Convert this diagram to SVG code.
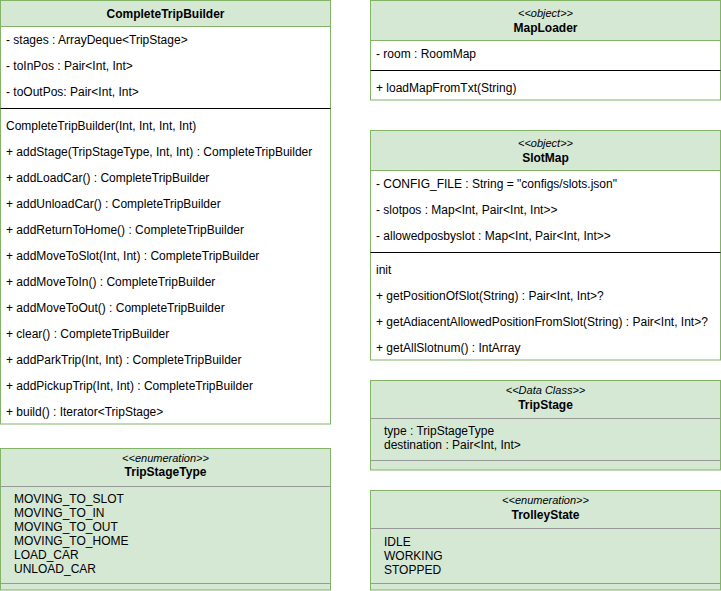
<svg xmlns="http://www.w3.org/2000/svg" width="721" height="591" viewBox="0 0 721 591">
<style>
text { font-family: "Liberation Sans", Arial, Helvetica, sans-serif; font-size: 12px; fill: #000; }
.name { font-weight: bold; text-anchor: middle; }
.stereo { font-style: italic; font-size: 11px; text-anchor: middle; }
.box { fill: #ffffff; stroke: #82b366; stroke-width: 1; }
.head { fill: #d5e8d4; stroke: #82b366; stroke-width: 1; }
.green { fill: #d5e8d4; stroke: #82b366; stroke-width: 1; }
.sep { stroke: #000000; stroke-width: 1; }
.gsep { stroke: #999999; stroke-width: 1; }
</style>
<rect width="721" height="591" fill="#ffffff"/>

<g id="CompleteTripBuilder">
  <rect class="box" x="0.5" y="0.5" width="330" height="423.5"/>
  <rect class="head" x="0.5" y="0.5" width="330" height="26"/>
  <text class="name" x="165.5" y="18">CompleteTripBuilder</text>
  <text x="6" y="44">- stages : ArrayDeque&lt;TripStage&gt;</text>
  <text x="6" y="70">- toInPos : Pair&lt;Int, Int&gt;</text>
  <text x="6" y="96">- toOutPos: Pair&lt;Int, Int&gt;</text>
  <line class="sep" x1="0.5" y1="108.5" x2="330.5" y2="108.5"/>
  <text x="6" y="130">CompleteTripBuilder(Int, Int, Int, Int)</text>
  <text x="6" y="156">+ addStage(TripStageType, Int, Int) : CompleteTripBuilder</text>
  <text x="6" y="182">+ addLoadCar() : CompleteTripBuilder</text>
  <text x="6" y="208">+ addUnloadCar() : CompleteTripBuilder</text>
  <text x="6" y="234">+ addReturnToHome() : CompleteTripBuilder</text>
  <text x="6" y="260">+ addMoveToSlot(Int, Int) : CompleteTripBuilder</text>
  <text x="6" y="286">+ addMoveToIn() : CompleteTripBuilder</text>
  <text x="6" y="312">+ addMoveToOut() : CompleteTripBuilder</text>
  <text x="6" y="338">+ clear() : CompleteTripBuilder</text>
  <text x="6" y="364">+ addParkTrip(Int, Int) : CompleteTripBuilder</text>
  <text x="6" y="390">+ addPickupTrip(Int, Int) : CompleteTripBuilder</text>
  <text x="6" y="416">+ build() : Iterator&lt;TripStage&gt;</text>
</g>

<g id="TripStageType">
  <rect class="green" x="0.5" y="448.5" width="330" height="141.5"/>
  <text class="stereo" x="165.5" y="462">&lt;&lt;enumeration&gt;&gt;</text>
  <text class="name" x="165.5" y="476">TripStageType</text>
  <line class="gsep" x1="0.5" y1="486.5" x2="330.5" y2="486.5"/>
  <text x="14" y="503">MOVING_TO_SLOT</text>
  <text x="14" y="517">MOVING_TO_IN</text>
  <text x="14" y="531">MOVING_TO_OUT</text>
  <text x="14" y="545">MOVING_TO_HOME</text>
  <text x="14" y="559">LOAD_CAR</text>
  <text x="14" y="573">UNLOAD_CAR</text>
  <line class="gsep" x1="0.5" y1="583.5" x2="330.5" y2="583.5"/>
</g>

<g id="MapLoader">
  <rect class="box" x="370.5" y="0.5" width="350" height="99.5"/>
  <rect class="head" x="370.5" y="0.5" width="350" height="40"/>
  <text class="stereo" x="545.5" y="17">&lt;&lt;object&gt;&gt;</text>
  <text class="name" x="545.5" y="32">MapLoader</text>
  <text x="376" y="58">- room : RoomMap</text>
  <line class="sep" x1="370.5" y1="70.5" x2="720.5" y2="70.5"/>
  <text x="376" y="92">+ loadMapFromTxt(String)</text>
</g>

<g id="SlotMap">
  <rect class="box" x="370.5" y="130.5" width="350" height="229.5"/>
  <rect class="head" x="370.5" y="130.5" width="350" height="40"/>
  <text class="stereo" x="545.5" y="147">&lt;&lt;object&gt;&gt;</text>
  <text class="name" x="545.5" y="162">SlotMap</text>
  <text x="376" y="188">- CONFIG_FILE : String = "configs/slots.json"</text>
  <text x="376" y="214">- slotpos : Map&lt;Int, Pair&lt;Int, Int&gt;&gt;</text>
  <text x="376" y="240">- allowedposbyslot : Map&lt;Int, Pair&lt;Int, Int&gt;&gt;</text>
  <line class="sep" x1="370.5" y1="252.5" x2="720.5" y2="252.5"/>
  <text x="376" y="274">init</text>
  <text x="376" y="300">+ getPositionOfSlot(String) : Pair&lt;Int, Int&gt;?</text>
  <text x="376" y="326">+ getAdiacentAllowedPositionFromSlot(String) : Pair&lt;Int, Int&gt;?</text>
  <text x="376" y="352">+ getAllSlotnum() : IntArray</text>
</g>

<g id="TripStage">
  <rect class="green" x="370.5" y="380.5" width="350" height="89.5"/>
  <text class="stereo" x="545.5" y="394">&lt;&lt;Data Class&gt;&gt;</text>
  <text class="name" x="545.5" y="409">TripStage</text>
  <line class="gsep" x1="370.5" y1="418.5" x2="720.5" y2="418.5"/>
  <text x="384" y="435">type : TripStageType</text>
  <text x="384" y="449">destination : Pair&lt;Int, Int&gt;</text>
  <line class="gsep" x1="370.5" y1="460.5" x2="720.5" y2="460.5"/>
</g>

<g id="TrolleyState">
  <rect class="green" x="370.5" y="490.5" width="350" height="99.5"/>
  <text class="stereo" x="545.5" y="504">&lt;&lt;enumeration&gt;&gt;</text>
  <text class="name" x="545.5" y="519">TrolleyState</text>
  <line class="gsep" x1="370.5" y1="528.5" x2="720.5" y2="528.5"/>
  <text x="384" y="546">IDLE</text>
  <text x="384" y="560">WORKING</text>
  <text x="384" y="574">STOPPED</text>
  <line class="gsep" x1="370.5" y1="583.5" x2="720.5" y2="583.5"/>
</g>

<g id="connectors"></g>
</svg>
